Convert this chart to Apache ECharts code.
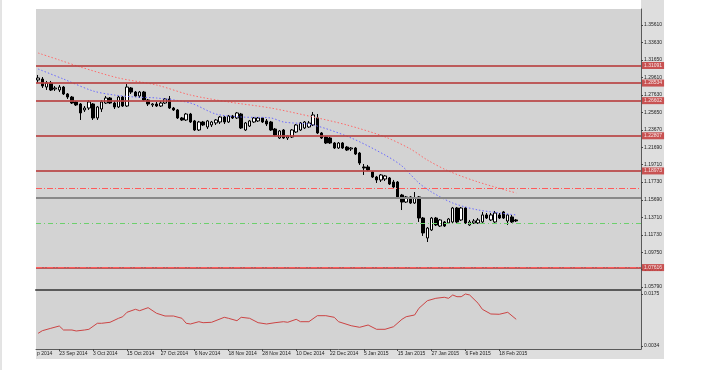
<!DOCTYPE html>
<html><head><meta charset="utf-8">
<script src="https://cdn.jsdelivr.net/npm/echarts@6/dist/echarts.min.js"></script>
<style>html,body{margin:0;padding:0;background:#fff}#c{width:710px;height:375px}</style>
</head><body><div id="c"></div>
<script>
// ---- data (EURUSD daily, 16 Sep 2014 - 24 Feb 2015) ----
const open = [
1.2935,1.2946,1.2855,1.2901,1.2833,1.2821,1.2855,1.2776,1.2741,1.2685,
1.2662,1.2594,1.2616,1.2662,1.2503,1.2605,1.2673,1.2730,1.2673,1.2628,
1.2741,1.2639,1.2844,1.2798,1.2753,1.2798,1.2707,1.2651,1.2662,1.2639,
1.2673,1.2719,1.2616,1.2594,1.2503,1.2480,1.2548,1.2469,1.2366,1.2457,
1.2400,1.2423,1.2446,1.2457,1.2514,1.2457,1.2525,1.2503,1.2548,1.2366,
1.2411,1.2457,1.2469,1.2503,1.2469,1.2457,1.2377,1.2275,1.2366,1.2275,
1.2286,1.2343,1.2366,1.2389,1.2400,1.2423,1.2503,1.2332,1.2286,1.2275,
1.2218,1.2161,1.2218,1.2172,1.2150,1.2161,1.2104,1.1945,1.1945,1.1888,
1.1831,1.1797,1.1808,1.1820,1.1774,1.1774,1.1626,1.1546,1.1604,1.1535,
1.1604,1.1364,1.1137,1.1228,1.1364,1.1273,1.1319,1.1308,1.1319,1.1478,
1.1342,1.1478,1.1285,1.1308,1.1308,1.1319,1.1399,1.1342,1.1319,1.1399,
1.1433,1.1330,1.1376,1.1342];
const close = [
1.2958,1.2867,1.2901,1.2821,1.2844,1.2855,1.2776,1.2741,1.2673,1.2651,
1.2560,1.2616,1.2685,1.2503,1.2628,1.2685,1.2730,1.2673,1.2628,1.2741,
1.2639,1.2855,1.2798,1.2753,1.2798,1.2707,1.2662,1.2662,1.2639,1.2673,
1.2719,1.2616,1.2594,1.2503,1.2480,1.2548,1.2457,1.2366,1.2457,1.2423,
1.2469,1.2457,1.2480,1.2514,1.2457,1.2525,1.2503,1.2560,1.2389,1.2446,
1.2469,1.2503,1.2503,1.2457,1.2434,1.2366,1.2309,1.2355,1.2275,1.2298,
1.2366,1.2423,1.2446,1.2457,1.2446,1.2537,1.2332,1.2275,1.2218,1.2218,
1.2161,1.2218,1.2161,1.2138,1.2161,1.2093,1.1990,1.1934,1.1911,1.1831,
1.1797,1.1854,1.1843,1.1751,1.1717,1.1604,1.1546,1.1604,1.1535,1.1592,
1.1364,1.1194,1.1250,1.1364,1.1285,1.1342,1.1273,1.1353,1.1478,1.1319,
1.1478,1.1308,1.1319,1.1330,1.1342,1.1399,1.1364,1.1399,1.1421,1.1364,
1.1364,1.1399,1.1319,1.1331];
const low = [
1.2901,1.2844,1.2821,1.2810,1.2810,1.2798,1.2764,1.2719,1.2662,1.2639,
1.2480,1.2571,1.2594,1.2480,1.2480,1.2571,1.2662,1.2662,1.2605,1.2616,
1.2628,1.2628,1.2776,1.2741,1.2730,1.2696,1.2639,1.2628,1.2628,1.2628,
1.2662,1.2605,1.2582,1.2491,1.2469,1.2469,1.2446,1.2355,1.2355,1.2411,
1.2377,1.2400,1.2423,1.2434,1.2434,1.2446,1.2491,1.2491,1.2377,1.2355,
1.2400,1.2446,1.2457,1.2446,1.2411,1.2355,1.2298,1.2264,1.2264,1.2252,
1.2275,1.2332,1.2355,1.2377,1.2389,1.2411,1.2320,1.2264,1.2207,1.2207,
1.2150,1.2150,1.2150,1.2127,1.2127,1.2081,1.1968,1.1854,1.1899,1.1820,
1.1763,1.1774,1.1785,1.1740,1.1706,1.1592,1.1455,1.1535,1.1524,1.1524,
1.1319,1.1160,1.1091,1.1216,1.1273,1.1262,1.1262,1.1296,1.1308,1.1308,
1.1330,1.1296,1.1273,1.1296,1.1296,1.1308,1.1353,1.1330,1.1308,1.1353,
1.1353,1.1285,1.1308,1.1319];
const high = [
1.2992,1.2969,1.2924,1.2924,1.2867,1.2878,1.2867,1.2787,1.2753,1.2696,
1.2673,1.2639,1.2707,1.2673,1.2639,1.2707,1.2753,1.2741,1.2696,1.2753,
1.2753,1.2889,1.2855,1.2810,1.2810,1.2810,1.2719,1.2673,1.2685,1.2696,
1.2730,1.2753,1.2628,1.2605,1.2514,1.2560,1.2560,1.2480,1.2469,1.2469,
1.2480,1.2469,1.2491,1.2525,1.2525,1.2537,1.2537,1.2571,1.2560,1.2457,
1.2480,1.2514,1.2514,1.2514,1.2491,1.2469,1.2389,1.2366,1.2377,1.2309,
1.2377,1.2434,1.2457,1.2468,1.2468,1.2571,1.2548,1.2343,1.2298,1.2286,
1.2229,1.2229,1.2229,1.2184,1.2172,1.2172,1.2116,1.1979,1.1968,1.1899,
1.1843,1.1865,1.1854,1.1831,1.1797,1.1785,1.1638,1.1615,1.1615,1.1660,
1.1615,1.1376,1.1262,1.1376,1.1376,1.1353,1.1330,1.1364,1.1490,1.1490,
1.1490,1.1490,1.1342,1.1353,1.1364,1.1433,1.1421,1.1421,1.1444,1.1421,
1.1444,1.1410,1.1399,1.1353];

// moving averages read at sample bars: [barIndex, price]
const blueMA = [[0,1.3060],[6,1.2946],[13,1.2810],[18,1.2764],[23,1.2741],[28,1.2730],[36,1.2673],[42,1.2548],[48,1.2514],[55,1.2503],[58,1.2457],[65,1.2423],[74,1.2275],[82,1.2081],[86,1.1956],[90,1.1763],[93,1.1660],[98,1.1535],[104,1.1456],[113,1.1399]];
const redMA = [[0,1.3242],[5,1.3163],[10,1.3083],[19,1.2958],[28,1.2878],[36,1.2764],[45,1.2685],[55,1.2616],[65,1.2514],[73,1.2423],[82,1.2287],[88,1.2150],[92,1.2024],[97,1.1899],[104,1.1774],[113,1.1649]];

// lower indicator read at sample bars
const indicator = [[0,0.00684],[1,0.00755],[3,0.00820],[5,0.00882],[6,0.00774],[8,0.00774],[9,0.00747],[11,0.00774],[12,0.00793],[14,0.00956],[15,0.00956],[17,0.00983],[19,0.01091],[20,0.01134],[21,0.01254],[23,0.01335],[24,0.01297],[26,0.01379],[28,0.01227],[30,0.01153],[32,0.01153],[34,0.01091],[35,0.00956],[36,0.00937],[38,0.00999],[39,0.00972],[41,0.00983],[44,0.01118],[45,0.01091],[47,0.01026],[48,0.01118],[50,0.01091],[52,0.00972],[54,0.00937],[56,0.00972],[58,0.00999],[59,0.00983],[61,0.01064],[62,0.00999],[64,0.00999],[66,0.01162],[68,0.01162],[70,0.01118],[71,0.00999],[74,0.00890],[76,0.00847],[78,0.00909],[80,0.00793],[82,0.00793],[84,0.00863],[86,0.01064],[87,0.01134],[89,0.01181],[90,0.01362],[92,0.01568],[94,0.01633],[96,0.01661],[97,0.01633],[98,0.01723],[99,0.01677],[100,0.01677],[101,0.01750],[102,0.01723],[104,0.01498],[105,0.01335],[107,0.01208],[109,0.01200],[111,0.01254],[113,0.01064]];

// axis labels
const dateLabels = ['23 Sep 2014','3 Oct 2014','15 Oct 2014','27 Oct 2014','6 Nov 2014','18 Nov 2014','28 Nov 2014','10 Dec 2014','22 Dec 2014','5 Jan 2015','15 Jan 2015','27 Jan 2015','6 Feb 2015','18 Feb 2015'];
const dateLabelStart = 5, dateLabelStep = 8, slotCount = 143;
const priceTicks = [1.0579,1.0777,1.0975,1.1173,1.1371,1.1569,1.1773,1.1971,1.2169,1.2367,1.2565,1.2763,1.2961,1.3165,1.3363,1.3561,1.3759];
const indTicks = [0.0034,0.0175];

// horizontal objects
const redLevels = [1.31091,1.28534,1.26602,1.22807,1.18973,1.07616];
const redDashLevels = [1.1694,1.0795];
const grayLevel = 1.1632;
const greenLevel = 1.1279;
const lastPrice = 1.13309;

// ---- build ----
const cats = [];
for (let i = 0; i < slotCount; i++) cats.push('');
dateLabels.forEach((d, i) => { cats[dateLabelStart + i * dateLabelStep] = d; });
const ohlc = open.map((o, i) => [o, close[i], low[i], high[i]]);

const FONT = 'Liberation Sans';
const txt = { fontSize: 5, color: '#222', fontFamily: FONT };

const markData = [];
redLevels.forEach(v => markData.push({
  yAxis: v,
  lineStyle: { color: '#b84444', width: 2, type: 'solid', opacity: 0.85 },
  label: { show: true, position: 'end', distance: 1, formatter: v.toFixed(5),
    backgroundColor: '#c43a3a', color: '#fff', fontSize: 5, fontFamily: FONT, padding: [1, 2, 1, 2] }
}));
redDashLevels.forEach(v => markData.push({
  yAxis: v, lineStyle: { color: '#ff5a5a', width: 1, type: [6, 2, 1, 2] }, label: { show: false }
}));
markData.push({ yAxis: grayLevel, lineStyle: { color: '#888', width: 2, type: 'solid' }, label: { show: false } });
markData.push({ yAxis: greenLevel, lineStyle: { color: '#6cd06c', width: 1, type: [5, 3, 1, 3] }, label: { show: false } });
markData.push({
  yAxis: lastPrice, lineStyle: { opacity: 0 },
  label: { show: true, position: 'end', distance: 1, formatter: lastPrice.toFixed(5),
    backgroundColor: '#000', color: '#fff', fontSize: 5, fontFamily: FONT, padding: [1, 2, 1, 2] }
});

const chart = echarts.init(document.getElementById('c'), null, { renderer: 'canvas' });
chart.setOption({
  animation: false,
  backgroundColor: '#ffffff',
  graphic: [
    { type: 'rect', z: -10, shape: { x: 641, y: 0, width: 23, height: 359 }, style: { fill: '#dedede' } },
    { type: 'rect', z: -10, shape: { x: 36, y: 349, width: 628, height: 10 }, style: { fill: '#dedede' } },
    { type: 'line', z: -10, shape: { x1: 1, y1: 0, x2: 1, y2: 370 }, style: { stroke: '#c8c8c8', lineWidth: 1 } },
    { type: 'text', left: 37, top: 351.5, z: 5, style: { text: 'p 2014', fontSize: 5, fill: '#222', fontFamily: FONT } }
  ],
  grid: [
    { left: 36, top: 9, width: 605, height: 281, show: true, backgroundColor: '#d3d3d3', borderWidth: 0 },
    { left: 36, top: 291, width: 605, height: 58, show: true, backgroundColor: '#d3d3d3', borderWidth: 0 }
  ],
  xAxis: [
    { type: 'category', gridIndex: 0, data: cats, boundaryGap: true,
      axisLine: { show: true, lineStyle: { color: '#5a5a5a', width: 2 } },
      axisTick: { show: false }, axisLabel: { show: false }, splitLine: { show: false } },
    { type: 'category', gridIndex: 1, data: cats, boundaryGap: true,
      axisLine: { show: true, lineStyle: { color: '#5a5a5a', width: 1 } },
      axisTick: { show: true, alignWithLabel: true, length: 2, lineStyle: { color: '#444' },
        interval: (i, v) => v !== '' },
      axisLabel: Object.assign({ show: true, align: 'left', margin: 2, interval: (i, v) => v !== '' }, txt),
      splitLine: { show: false } }
  ],
  yAxis: [
    { type: 'value', gridIndex: 0, position: 'right', scale: true, min: 1.05448, max: 1.37431,
      axisLine: { show: true, lineStyle: { color: '#5a5a5a', width: 1 } },
      axisTick: { show: true, length: 2, customValues: priceTicks, lineStyle: { color: '#444' } },
      axisLabel: Object.assign({ show: true, margin: 3, customValues: priceTicks, formatter: v => v.toFixed(5) }, txt),
      splitLine: { show: false } },
    { type: 'value', gridIndex: 1, position: 'right', min: 0.00259, max: 0.01831,
      axisLine: { show: true, lineStyle: { color: '#5a5a5a', width: 1 } },
      axisTick: { show: true, length: 2, customValues: indTicks, lineStyle: { color: '#444' } },
      axisLabel: Object.assign({ show: true, margin: 3, customValues: indTicks, formatter: v => v.toFixed(4) }, txt),
      splitLine: { show: false } }
  ],
  series: [
    { type: 'candlestick', xAxisIndex: 0, yAxisIndex: 0, data: ohlc, barWidth: 3,
      itemStyle: { color: '#ffffff', color0: '#000000', borderColor: '#000000', borderColor0: '#000000', borderWidth: 1 },
      markLine: { silent: true, symbol: ['none', 'none'], data: markData, animation: false }
    },
    { type: 'line', name: 'fast MA', xAxisIndex: 0, yAxisIndex: 0, data: blueMA, showSymbol: false, smooth: 0.3,
      lineStyle: { color: '#6a6aff', width: 1, type: [1.5, 2] }, z: 3 },
    { type: 'line', name: 'slow MA', xAxisIndex: 0, yAxisIndex: 0, data: redMA, showSymbol: false, smooth: 0.3,
      lineStyle: { color: '#ff6a6a', width: 1, type: [1.5, 2] }, z: 3 },
    { type: 'line', name: 'indicator', xAxisIndex: 1, yAxisIndex: 1, data: indicator, showSymbol: false,
      lineStyle: { color: '#cc4444', width: 1 } }
  ]
});
</script></body></html>
